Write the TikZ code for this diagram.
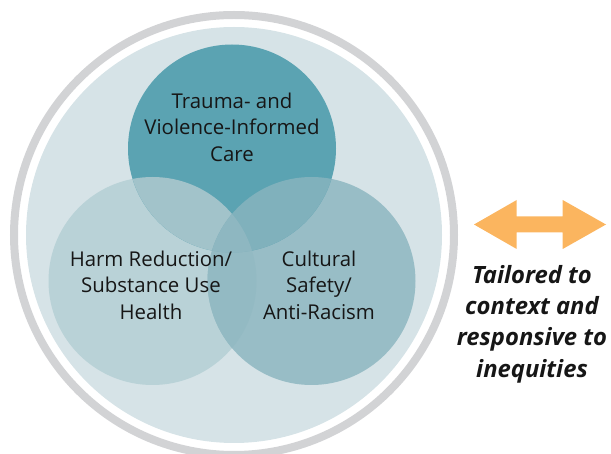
\documentclass[tikz,border=0pt]{standalone}
\usepackage{fontspec}
\setmainfont{Open Sans}
\definecolor{ringgray}{HTML}{D2D3D5}
\definecolor{bgblue}{HTML}{D6E3E7}
\definecolor{topc}{HTML}{5BA3B2}
\definecolor{leftc}{HTML}{B9D2D7}
\definecolor{rightc}{HTML}{98BDC6}
\definecolor{tlc}{HTML}{A2C3CA}
\definecolor{trc}{HTML}{80B1BC}
\definecolor{lrc}{HTML}{93BAC3}
\definecolor{allc}{HTML}{8EB7C1}
\definecolor{arrowc}{HTML}{FBB55F}
\definecolor{txt}{HTML}{161616}
\tikzset{
  venntext/.style={align=center, text=txt, inner sep=0pt, font=\fontsize{20.4}{26.5}\selectfont},
  sidetext/.style={align=center, text=txt, inner sep=0pt, font=\fontsize{23.8}{31.3}\selectfont\bfseries\itshape},
}
\begin{document}
\begin{tikzpicture}[x=1pt,y=-1pt]
\useasboundingbox (0,0) rectangle (611,454);
\clip (0,0) rectangle (611,454);
\coordinate (C) at (234,235);
\coordinate (T) at (232,148.5);
\coordinate (L) at (152.5,281);
\coordinate (R) at (311.5,281);
% outer ring and background
\draw[ringgray, line width=8pt] (C) circle (220pt);
\fill[bgblue] (C) circle (208pt);
% three circles
\fill[leftc] (L) circle (104pt);
\fill[rightc] (R) circle (104pt);
\fill[topc] (T) circle (104pt);
% overlaps
\begin{scope}
  \clip (L) circle (104pt);
  \fill[tlc] (T) circle (104pt);
  \fill[lrc] (R) circle (104pt);
\end{scope}
\begin{scope}
  \clip (R) circle (104pt);
  \fill[trc] (T) circle (104pt);
\end{scope}
\begin{scope}
  \clip (L) circle (104pt);
  \clip (R) circle (104pt);
  \fill[allc] (T) circle (104pt);
\end{scope}
% labels
\node[venntext] (ttop) at (232,127) {Trauma- and\\Violence-Informed\\Care};
\node[venntext] (tleft) at (151,285) {Harm Reduction/\\Substance Use\\Health};
\node[venntext] (tright) at (319,285) {Cultural\\Safety/\\Anti-Racism};
% double arrow
\fill[arrowc] (474,224.5) -- (516.7,200) -- (516.7,216.5) -- (562.7,216.5) -- (562.7,200)
  -- (606,224.5) -- (562.7,249) -- (562.7,232.5) -- (516.7,232.5) -- (516.7,249) -- cycle;
\node[sidetext] (side) at (532,324) {Tailored to\\context and\\responsive to\\inequities};
\end{tikzpicture}
\end{document}
